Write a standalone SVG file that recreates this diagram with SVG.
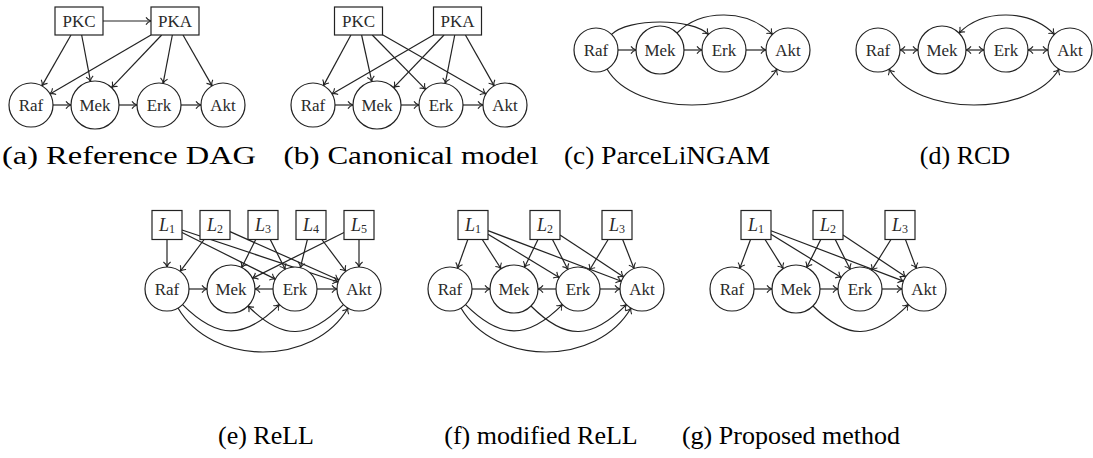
<svg xmlns="http://www.w3.org/2000/svg" width="1093" height="458" viewBox="0 0 1093 458">
<style>
.n{fill:#fff;stroke:#222;stroke-width:1.2}
.t{font-family:"Liberation Serif",serif;font-size:17px;fill:#2a2a2a;text-anchor:middle;dominant-baseline:central}
.li{font-style:italic;font-size:18px}
.sub{font-size:12px}
.cap{font-family:"Liberation Serif",serif;font-size:26px;fill:#000;text-anchor:middle}
.e{fill:none;stroke:#222;stroke-width:1.2;marker-end:url(#arr)}
.bi{marker-start:url(#arr)}
</style>
<defs>
<marker id="arr" viewBox="-6 -5 7 10" refX="0" refY="0" markerWidth="7" markerHeight="10" markerUnits="userSpaceOnUse" orient="auto-start-reverse">
<path d="M-5,-3.6 C-3.5,-1.3 -1,-0.3 0,0 C-1,0.3 -3.5,1.3 -5,3.6" fill="none" stroke="#222" stroke-width="1.1"/>
</marker>
</defs>
<rect width="1093" height="458" fill="#fff"/>

<!-- (a) -->
<g id="panel-a">
<g id="a-edges">
<line class="e" x1="103" y1="21" x2="151" y2="21"/>
<line class="e" x1="71" y1="35" x2="41.91" y2="85.9"/>
<line class="e" x1="81.67" y1="35" x2="90.51" y2="81.42"/>
<line class="e" x1="151" y1="35" x2="50" y2="93.92"/>
<line class="e" x1="161.67" y1="35" x2="111.55" y2="87.62"/>
<line class="e" x1="172.33" y1="35" x2="163.12" y2="83.39"/>
<line class="e" x1="183" y1="35" x2="212.09" y2="85.9"/>
<line class="e" x1="53" y1="105" x2="71" y2="105"/>
<line class="e" x1="119" y1="105" x2="137" y2="105"/>
<line class="e" x1="181" y1="105" x2="201" y2="105"/>
</g>
<g id="a-pkc"><rect class="n" x="55" y="7" width="48" height="28"/><text class="t" x="79" y="21">PKC</text></g>
<g id="a-pka"><rect class="n" x="151" y="7" width="48" height="28"/><text class="t" x="175" y="21">PKA</text></g>
<g id="a-raf"><circle class="n" cx="31" cy="105" r="22"/><text class="t" x="31" y="105">Raf</text></g>
<g id="a-mek"><circle class="n" cx="95" cy="105" r="24"/><text class="t" x="95" y="105">Mek</text></g>
<g id="a-erk"><circle class="n" cx="159" cy="105" r="22"/><text class="t" x="159" y="105">Erk</text></g>
<g id="a-akt"><circle class="n" cx="223" cy="105" r="22"/><text class="t" x="223" y="105">Akt</text></g>
<text class="cap" x="129" y="164" textLength="254" lengthAdjust="spacingAndGlyphs">(a) Reference DAG</text>
</g>

<!-- (b) -->
<g id="panel-b">
<g id="b-edges">
<line class="e" x1="350.92" y1="35" x2="323.48" y2="85.66"/>
<line class="e" x1="361.58" y1="35" x2="371.84" y2="81.56"/>
<line class="e" x1="372.25" y1="35" x2="425.58" y2="89.3"/>
<line class="e" x1="382.5" y1="34.76" x2="485.91" y2="94.06"/>
<line class="e" x1="433.5" y1="34.95" x2="332.02" y2="93.94"/>
<line class="e" x1="444.08" y1="35" x2="393.61" y2="87.67"/>
<line class="e" x1="454.75" y1="35" x2="445.24" y2="83.41"/>
<line class="e" x1="465.42" y1="35" x2="494.17" y2="85.85"/>
<line class="e" x1="335" y1="105" x2="353" y2="105"/>
<line class="e" x1="401" y1="105" x2="419" y2="105"/>
<line class="e" x1="463" y1="105" x2="483" y2="105"/>
</g>
<g id="b-pkc"><rect class="n" x="334.5" y="7" width="48" height="28"/><text class="t" x="358.5" y="21">PKC</text></g>
<g id="b-pka"><rect class="n" x="433.5" y="7" width="48" height="28"/><text class="t" x="457.5" y="21">PKA</text></g>
<g id="b-raf"><circle class="n" cx="313" cy="105" r="22"/><text class="t" x="313" y="105">Raf</text></g>
<g id="b-mek"><circle class="n" cx="377" cy="105" r="24"/><text class="t" x="377" y="105">Mek</text></g>
<g id="b-erk"><circle class="n" cx="441" cy="105" r="22"/><text class="t" x="441" y="105">Erk</text></g>
<g id="b-akt"><circle class="n" cx="505" cy="105" r="22"/><text class="t" x="505" y="105">Akt</text></g>
<text class="cap" x="411" y="164" textLength="255" lengthAdjust="spacingAndGlyphs">(b) Canonical model</text>
</g>

<!-- (c) -->
<g id="panel-c">
<g id="c-edges">
<line class="e" x1="618" y1="50" x2="636" y2="50"/>
<line class="e" x1="684" y1="50" x2="702" y2="50"/>
<line class="e" x1="746" y1="50" x2="766" y2="50"/>
<path class="e" d="M611.56,34.44 C628.15,17.85 691.85,17.85 708.44,34.44"/>
<path class="e" d="M676.97,33.03 C701.24,8.76 746.76,8.76 772.44,34.44"/>
<path class="e" d="M607,69.05 C634.67,116.98 749.33,116.98 777,69.05"/>
</g>
<g id="c-raf"><circle class="n" cx="596" cy="50" r="22"/><text class="t" x="596" y="50">Raf</text></g>
<g id="c-mek"><circle class="n" cx="660" cy="50" r="24"/><text class="t" x="660" y="50">Mek</text></g>
<g id="c-erk"><circle class="n" cx="724" cy="50" r="22"/><text class="t" x="724" y="50">Erk</text></g>
<g id="c-akt"><circle class="n" cx="788" cy="50" r="22"/><text class="t" x="788" y="50">Akt</text></g>
<text class="cap" x="667" y="164" textLength="206" lengthAdjust="spacingAndGlyphs">(c) ParceLiNGAM</text>
</g>

<!-- (d) -->
<g id="panel-d">
<g id="d-edges">
<line class="e bi" x1="900" y1="50" x2="918" y2="50"/>
<line class="e bi" x1="966" y1="50" x2="984" y2="50"/>
<line class="e bi" x1="1028" y1="50" x2="1048" y2="50"/>
<path class="e bi" d="M958.97,33.03 C983.24,8.76 1028.76,8.76 1054.44,34.44"/>
<path class="e bi" d="M889,69.05 C916.67,116.98 1031.33,116.98 1059,69.05"/>
</g>
<g id="d-raf"><circle class="n" cx="878" cy="50" r="22"/><text class="t" x="878" y="50">Raf</text></g>
<g id="d-mek"><circle class="n" cx="942" cy="50" r="24"/><text class="t" x="942" y="50">Mek</text></g>
<g id="d-erk"><circle class="n" cx="1006" cy="50" r="22"/><text class="t" x="1006" y="50">Erk</text></g>
<g id="d-akt"><circle class="n" cx="1070" cy="50" r="22"/><text class="t" x="1070" y="50">Akt</text></g>
<text class="cap" x="965" y="164">(d) RCD</text>
</g>

<!-- (e) -->
<g id="panel-e">
<g id="e-edges">
<line class="e" x1="167" y1="239.5" x2="167" y2="267"/>
<line class="e" x1="182" y1="232.5" x2="275.32" y2="279.16"/>
<line class="e" x1="182" y1="230" x2="338.13" y2="282.04"/>
<line class="e" x1="204.12" y1="239.5" x2="180.2" y2="271.4"/>
<line class="e" x1="230" y1="231.67" x2="338.9" y2="280.06"/>
<line class="e" x1="255.75" y1="239.5" x2="241.73" y2="267.53"/>
<line class="e" x1="270.25" y1="239.5" x2="285.16" y2="269.32"/>
<line class="e" x1="307.37" y1="239.5" x2="300.34" y2="267.66"/>
<line class="e" x1="321.88" y1="239.5" x2="345.8" y2="271.4"/>
<line class="e" x1="344" y1="232.5" x2="252.47" y2="278.27"/>
<line class="e" x1="359" y1="239.5" x2="359" y2="267"/>
<line class="e" x1="189" y1="289" x2="207" y2="289"/>
<line class="e" x1="273" y1="289" x2="255" y2="289"/>
<line class="e" x1="317" y1="289" x2="337" y2="289"/>
<path class="e" d="M182.56,304.56 C217.56,339.56 244.44,339.56 279.44,304.56"/>
<path class="e" d="M343.44,304.56 C308.44,339.56 282.97,340.97 247.97,305.97"/>
<path class="e" d="M178,308.05 C211.8,366.65 314.2,366.65 348,308.05"/>
</g>
<g id="e-l1"><rect class="n" x="152" y="210.5" width="30" height="29"/><text class="t" x="167" y="225"><tspan class="li">L</tspan><tspan class="sub" dy="4">1</tspan></text></g>
<g id="e-l2"><rect class="n" x="200" y="210.5" width="30" height="29"/><text class="t" x="215" y="225"><tspan class="li">L</tspan><tspan class="sub" dy="4">2</tspan></text></g>
<g id="e-l3"><rect class="n" x="248" y="210.5" width="30" height="29"/><text class="t" x="263" y="225"><tspan class="li">L</tspan><tspan class="sub" dy="4">3</tspan></text></g>
<g id="e-l4"><rect class="n" x="296" y="210.5" width="30" height="29"/><text class="t" x="311" y="225"><tspan class="li">L</tspan><tspan class="sub" dy="4">4</tspan></text></g>
<g id="e-l5"><rect class="n" x="344" y="210.5" width="30" height="29"/><text class="t" x="359" y="225"><tspan class="li">L</tspan><tspan class="sub" dy="4">5</tspan></text></g>
<g id="e-raf"><circle class="n" cx="167" cy="289" r="22"/><text class="t" x="167" y="289">Raf</text></g>
<g id="e-mek"><circle class="n" cx="231" cy="289" r="24"/><text class="t" x="231" y="289">Mek</text></g>
<g id="e-erk"><circle class="n" cx="295" cy="289" r="22"/><text class="t" x="295" y="289">Erk</text></g>
<g id="e-akt"><circle class="n" cx="359" cy="289" r="22"/><text class="t" x="359" y="289">Akt</text></g>
<text class="cap" x="266" y="444">(e) ReLL</text>
</g>

<!-- (f) -->
<g id="panel-f">
<g id="f-edges">
<line class="e" x1="467.79" y1="239.5" x2="457.44" y2="268.3"/>
<line class="e" x1="482.29" y1="239.5" x2="501.05" y2="268.79"/>
<line class="e" x1="488" y1="234.14" x2="559.22" y2="277.55"/>
<line class="e" x1="488" y1="230.68" x2="621.43" y2="281.21"/>
<line class="e" x1="537.98" y1="239.5" x2="524.46" y2="267.4"/>
<line class="e" x1="552.48" y1="239.5" x2="567.92" y2="269.45"/>
<line class="e" x1="560" y1="234.9" x2="623.64" y2="276.88"/>
<line class="e" x1="608.16" y1="239.5" x2="589.45" y2="270.21"/>
<line class="e" x1="622.66" y1="239.5" x2="634" y2="268.51"/>
<line class="e" x1="472" y1="289" x2="490" y2="289"/>
<line class="e" x1="556" y1="289" x2="538" y2="289"/>
<line class="e" x1="600" y1="289" x2="620" y2="289"/>
<path class="e" d="M465.56,304.56 C500.56,339.56 527.44,339.56 562.44,304.56"/>
<path class="e" d="M530.97,305.97 C565.97,340.97 591.44,339.56 626.44,304.56"/>
<path class="e" d="M461,308.05 C494.8,366.65 597.2,366.65 631,308.05"/>
</g>
<g id="f-l1"><rect class="n" x="458" y="210.5" width="30" height="29"/><text class="t" x="473" y="225"><tspan class="li">L</tspan><tspan class="sub" dy="4">1</tspan></text></g>
<g id="f-l2"><rect class="n" x="530" y="210.5" width="30" height="29"/><text class="t" x="545" y="225"><tspan class="li">L</tspan><tspan class="sub" dy="4">2</tspan></text></g>
<g id="f-l3"><rect class="n" x="602" y="210.5" width="30" height="29"/><text class="t" x="617" y="225"><tspan class="li">L</tspan><tspan class="sub" dy="4">3</tspan></text></g>
<g id="f-raf"><circle class="n" cx="450" cy="289" r="22"/><text class="t" x="450" y="289">Raf</text></g>
<g id="f-mek"><circle class="n" cx="514" cy="289" r="24"/><text class="t" x="514" y="289">Mek</text></g>
<g id="f-erk"><circle class="n" cx="578" cy="289" r="22"/><text class="t" x="578" y="289">Erk</text></g>
<g id="f-akt"><circle class="n" cx="642" cy="289" r="22"/><text class="t" x="642" y="289">Akt</text></g>
<text class="cap" x="541" y="444">(f) modified ReLL</text>
</g>

<!-- (g) -->
<g id="panel-g">
<g id="g-edges">
<line class="e" x1="750.56" y1="239.5" x2="739.72" y2="268.4"/>
<line class="e" x1="765.06" y1="239.5" x2="783.28" y2="268.65"/>
<line class="e" x1="771" y1="234.23" x2="841.26" y2="277.47"/>
<line class="e" x1="771" y1="230.71" x2="903.44" y2="281.17"/>
<line class="e" x1="820.75" y1="239.5" x2="806.73" y2="267.53"/>
<line class="e" x1="835.25" y1="239.5" x2="850.16" y2="269.32"/>
<line class="e" x1="843" y1="235" x2="905.7" y2="276.8"/>
<line class="e" x1="890.94" y1="239.5" x2="871.66" y2="270.34"/>
<line class="e" x1="905.44" y1="239.5" x2="916.28" y2="268.4"/>
<line class="e" x1="754" y1="289" x2="772" y2="289"/>
<line class="e" x1="820" y1="289" x2="838" y2="289"/>
<line class="e" x1="882" y1="289" x2="902" y2="289"/>
<path class="e" d="M812.97,305.97 C847.97,340.97 873.44,339.56 908.44,304.56"/>
</g>
<g id="g-l1"><rect class="n" x="741" y="210.5" width="30" height="29"/><text class="t" x="756" y="225"><tspan class="li">L</tspan><tspan class="sub" dy="4">1</tspan></text></g>
<g id="g-l2"><rect class="n" x="813" y="210.5" width="30" height="29"/><text class="t" x="828" y="225"><tspan class="li">L</tspan><tspan class="sub" dy="4">2</tspan></text></g>
<g id="g-l3"><rect class="n" x="885" y="210.5" width="30" height="29"/><text class="t" x="900" y="225"><tspan class="li">L</tspan><tspan class="sub" dy="4">3</tspan></text></g>
<g id="g-raf"><circle class="n" cx="732" cy="289" r="22"/><text class="t" x="732" y="289">Raf</text></g>
<g id="g-mek"><circle class="n" cx="796" cy="289" r="24"/><text class="t" x="796" y="289">Mek</text></g>
<g id="g-erk"><circle class="n" cx="860" cy="289" r="22"/><text class="t" x="860" y="289">Erk</text></g>
<g id="g-akt"><circle class="n" cx="924" cy="289" r="22"/><text class="t" x="924" y="289">Akt</text></g>
<text class="cap" x="791" y="444">(g) Proposed method</text>
</g>
</svg>
